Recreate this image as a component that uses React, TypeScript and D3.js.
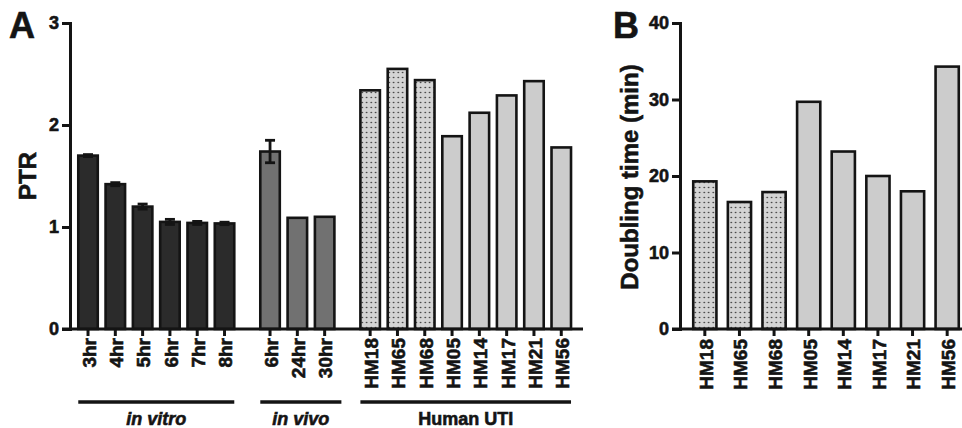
import * as d3 from "d3";
import { useEffect, useRef } from "react";

// panel A: PTR by group
const inVitroLabels = ["3hr", "4hr", "5hr", "6hr", "7hr", "8hr"];
const inVitroPTR = [1.7, 1.42, 1.2, 1.05, 1.04, 1.035];
const inVitroErr = [0.01, 0.015, 0.025, 0.025, 0.015, 0.012];

const inVivoLabels = ["6hr", "24hr", "30hr"];
const inVivoPTR = [1.74, 1.09, 1.1];
const inVivoErr = [0.11, 0, 0];

const utiStrains = ["HM18", "HM65", "HM68", "HM05", "HM14", "HM17", "HM21", "HM56"];
const utiPTR = [2.34, 2.55, 2.44, 1.89, 2.12, 2.29, 2.43, 1.78];
const dottedStrains = ["HM18", "HM65", "HM68"];

// panel B: doubling time
const doublingTime = [19.3, 16.6, 17.9, 29.7, 23.2, 20.0, 18.0, 34.3];

const groupNames = ["in vitro", "in vivo", "Human UTI"];

const FONT = '"Liberation Sans", Arial, Helvetica, sans-serif';
const INK = "#141414";

const App = () => {
    const ref = useRef<SVGSVGElement>(null);

    useEffect(() => {
        const svg = d3.select(ref.current);
        svg.selectAll("*").remove();

        const defs = svg.append("defs");
        const pat = defs.append("pattern")
            .attr("id", "dots")
            .attr("patternUnits", "userSpaceOnUse")
            .attr("width", 4.5)
            .attr("height", 5);
        pat.append("rect").attr("width", 4.5).attr("height", 5).attr("fill", "#d4d4d4");
        pat.append("circle").attr("cx", 2.2).attr("cy", 2.5).attr("r", 0.8).attr("fill", "#2a2a2a");

        const groups = [
            { name: groupNames[0], labels: inVitroLabels, values: inVitroPTR, err: inVitroErr, fill: "#2b2b2b", italic: true },
            { name: groupNames[1], labels: inVivoLabels, values: inVivoPTR, err: inVivoErr, fill: "#717171", italic: true },
            { name: groupNames[2], labels: utiStrains, values: utiPTR, err: utiStrains.map(() => 0), fill: "#cccccc", italic: false },
        ];

        // slot position for each bar, with a wider gap between groups
        const gap = 0.667;
        type Bar = { label: string; value: number; err: number; fill: string; slot: number; g: number };
        const bars: Bar[] = [];
        let slot = 0;
        groups.forEach((grp, gi) => {
            grp.labels.forEach((l, i) => {
                const dotted = gi === 2 && dottedStrains.includes(l);
                bars.push({ label: l, value: grp.values[i], err: grp.err[i], fill: dotted ? "url(#dots)" : grp.fill, slot, g: gi });
                slot += 1;
            });
            slot += gap;
        });

        const yA = d3.scaleLinear().domain([0, 3]).range([329, 23]);
        const xA = d3.scaleLinear().domain([-0.66, 18.13]).range([70, 583]);
        const bwA = 19.5;

        const gA = svg.append("g");

        // bars
        gA.selectAll("rect.bar")
            .data(bars)
            .enter()
            .append("rect")
            .attr("x", (d) => xA(d.slot) - bwA / 2)
            .attr("y", (d) => yA(d.value))
            .attr("width", bwA)
            .attr("height", (d) => yA(0) - yA(d.value))
            .attr("fill", (d) => d.fill)
            .attr("stroke", INK)
            .attr("stroke-width", 2.6);

        // error bars
        const eb = gA.selectAll("g.err")
            .data(bars.filter((d) => d.err > 0))
            .enter()
            .append("g")
            .attr("stroke", INK)
            .attr("stroke-width", 2.8);
        eb.append("line")
            .attr("x1", (d) => xA(d.slot)).attr("x2", (d) => xA(d.slot))
            .attr("y1", (d) => yA(d.value + d.err)).attr("y2", (d) => yA(d.value - d.err));
        eb.append("line")
            .attr("x1", (d) => xA(d.slot) - 5).attr("x2", (d) => xA(d.slot) + 5)
            .attr("y1", (d) => yA(d.value + d.err)).attr("y2", (d) => yA(d.value + d.err));
        eb.append("line")
            .attr("x1", (d) => xA(d.slot) - 5).attr("x2", (d) => xA(d.slot) + 5)
            .attr("y1", (d) => yA(d.value - d.err)).attr("y2", (d) => yA(d.value - d.err));

        // y axis A
        const axA = gA.append("g")
            .attr("transform", `translate(${xA(-0.66)},0)`)
            .call(d3.axisLeft(yA).ticks(3).tickSize(8).tickPadding(3).tickFormat(d3.format("d")));
        // x axis A
        gA.append("line")
            .attr("x1", xA(-0.66) - 8).attr("x2", 583)
            .attr("y1", yA(0)).attr("y2", yA(0))
            .attr("stroke", INK).attr("stroke-width", 3);
        gA.selectAll("line.xt")
            .data(bars)
            .enter()
            .append("line")
            .attr("x1", (d) => xA(d.slot)).attr("x2", (d) => xA(d.slot))
            .attr("y1", yA(0)).attr("y2", yA(0) + 7)
            .attr("stroke", INK).attr("stroke-width", 3);
        gA.selectAll("text.xl")
            .data(bars)
            .enter()
            .append("text")
            .attr("class", "lbl")
            .attr("transform", (d) => `translate(${xA(d.slot) + 1},338) rotate(-90)`)
            .attr("text-anchor", "end")
            .attr("dy", "0.36em")
            .attr("font-size", 19)
            .text((d) => d.label);

        // group underlines and names
        groups.forEach((grp, gi) => {
            const gb = bars.filter((d) => d.g === gi);
            const x0 = xA(gb[0].slot) - bwA / 2;
            const x1 = xA(gb[gb.length - 1].slot) + bwA / 2 + (gi === 1 ? 7 : 0);
            gA.append("line")
                .attr("x1", x0).attr("x2", x1)
                .attr("y1", 402).attr("y2", 402)
                .attr("stroke", INK).attr("stroke-width", 3.5);
            gA.append("text")
                .attr("class", "lbl")
                .attr("x", (x0 + x1) / 2)
                .attr("y", 425)
                .attr("text-anchor", "middle")
                .attr("font-style", grp.italic ? "italic" : "normal")
                .attr("font-size", 18)
                .text(grp.name);
        });

        gA.append("text")
            .attr("class", "lbl")
            .attr("transform", "translate(36,176) rotate(-90)")
            .attr("text-anchor", "middle")
            .attr("font-size", 24)
            .text("PTR");
        gA.append("text")
            .attr("class", "lbl")
            .attr("x", 9).attr("y", 38)
            .attr("font-size", 36)
            .text("A");

        // panel B
        const yB = d3.scaleLinear().domain([0, 40]).range([329, 23]);
        const xB = d3.scaleBand().domain(utiStrains).range([691.5, 960.5]).paddingInner(0.33).paddingOuter(0.05);
        const gB = svg.append("g");

        gB.selectAll("rect")
            .data(utiStrains)
            .enter()
            .append("rect")
            .attr("x", (d) => xB(d) as number)
            .attr("y", (_, i) => yB(doublingTime[i]))
            .attr("width", xB.bandwidth())
            .attr("height", (_, i) => yB(0) - yB(doublingTime[i]))
            .attr("fill", (d) => (dottedStrains.includes(d) ? "url(#dots)" : "#cccccc"))
            .attr("stroke", INK)
            .attr("stroke-width", 2.6);

        const axB = gB.append("g")
            .attr("transform", "translate(680,0)")
            .call(d3.axisLeft(yB).ticks(4).tickSize(8).tickPadding(3).tickFormat(d3.format("d")));
        gB.append("line")
            .attr("x1", 672).attr("x2", 962)
            .attr("y1", yB(0)).attr("y2", yB(0))
            .attr("stroke", INK).attr("stroke-width", 3);
        gB.selectAll("line.xt")
            .data(utiStrains)
            .enter()
            .append("line")
            .attr("x1", (d) => (xB(d) as number) + xB.bandwidth() / 2)
            .attr("x2", (d) => (xB(d) as number) + xB.bandwidth() / 2)
            .attr("y1", yB(0)).attr("y2", yB(0) + 7)
            .attr("stroke", INK).attr("stroke-width", 3);
        gB.selectAll("text.xl")
            .data(utiStrains)
            .enter()
            .append("text")
            .attr("class", "lbl")
            .attr("transform", (d) => `translate(${(xB(d) as number) + xB.bandwidth() / 2 + 1},339) rotate(-90)`)
            .attr("text-anchor", "end")
            .attr("dy", "0.36em")
            .attr("font-size", 19)
            .text((d) => d);

        gB.append("text")
            .attr("class", "lbl")
            .attr("transform", "translate(638,177) rotate(-90)")
            .attr("text-anchor", "middle")
            .attr("font-size", 24)
            .text("Doubling time (min)");
        gB.append("text")
            .attr("class", "lbl")
            .attr("x", 613).attr("y", 38)
            .attr("font-size", 36)
            .text("B");

        // axis styling
        [axA, axB].forEach((ax) => {
            ax.select(".domain").attr("stroke", INK).attr("stroke-width", 3);
            ax.selectAll(".tick line").attr("stroke", INK).attr("stroke-width", 3);
            ax.selectAll(".tick text").attr("class", "lbl").attr("font-size", 18);
        });

        // heavy bold text, like the original figure
        svg.selectAll("text.lbl")
            .attr("font-family", FONT)
            .attr("font-weight", "bold")
            .attr("fill", INK)
            .attr("stroke", INK)
            .attr("stroke-width", 0.6);
    }, []);

    return (
        <svg
            ref={ref}
            width={962}
            height={428}
            style={{ position: "absolute", left: 0, top: 0, background: "#fff" }}
        />
    );
};

export default App;
